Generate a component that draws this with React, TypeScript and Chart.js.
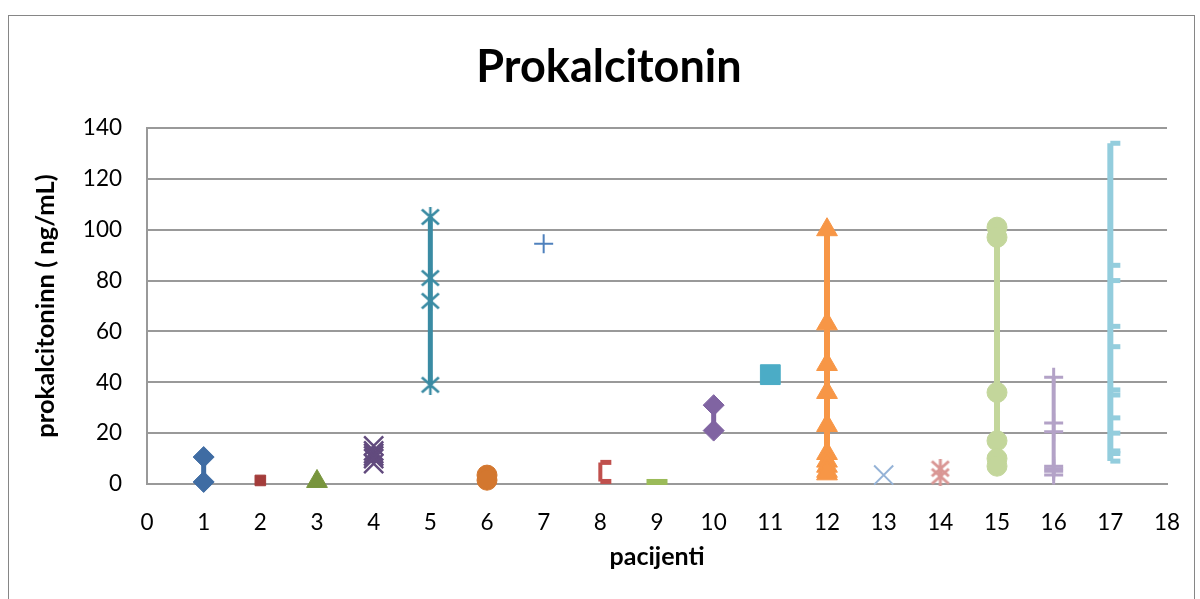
import React, { useEffect, useRef } from "react";
import { Chart, registerables } from "chart.js";

Chart.register(...registerables);

// ---- data ----
const patients = [1, 2, 3, 4, 5, 6, 7, 8, 9, 10, 11, 12, 13, 14, 15, 16, 17];

const p1 = [10.6, 0.8];
const p2 = [1.4];
const p3 = [1];
const p4 = [15, 13, 12, 11, 10, 8];
const p5 = [105, 81, 72, 39];
const p6 = [3.5, 1.5];
const p7 = [94.5];
const p8 = [8.5, 1];
const p9 = [0.8];
const p10 = [31, 21];
const p11 = [43];
const p12 = [100, 63, 47, 36, 23, 12, 9, 7, 5, 4];
const p13 = [3.5];
const p14 = [6, 3];
const p15 = [101, 97, 36, 17, 10, 7];
const p16 = [42, 24, 20.5, 7, 6, 5, 3.5];
const p17 = [134, 86, 80, 62, 54, 37, 35, 26, 20, 13, 12, 9];

const seriesValues = [p1, p2, p3, p4, p5, p6, p7, p8, p9, p10, p11, p12, p13, p14, p15, p16, p17];

const titleText = "Prokalcitonin";
const xTitle = "pacijenti";
const yTitle = "prokalcitoninn ( ng/mL)";
const xMin = 0;
const xMax = 18;
const yMin = 0;
const yMax = 140;
const yStep = 20;

// ---- styles ----
const seriesColors = [
  "#3F6CA3", "#A33C3A", "#78953D", "#624B7E", "#3A8BA3", "#D3772F",
  "#4F81BD", "#C0504D", "#9BBB59", "#8064A2", "#4BACC6", "#F79646",
  "#95B3D7", "#D99694", "#C3D69B", "#B3A2C7", "#93CDDD",
];
const markerKinds = [
  "rectRot", "rect", "triangle", "crossRot", "excelStar", "circle", "cross", "dash", "line",
  "rectRot", "rect", "triangle", "crossRot", "excelStar", "circle", "cross", "dash",
];
const markerRadius = [10.5, 7.5, 12, 13.5, 20, 10, 9.5, 11, 10.5, 10.5, 14, 12, 13.5, 20, 10, 9.5, 10];
const markerStroke = [1, 1, 1, 2.5, 2.5, 1, 2, 5, 6, 1, 1, 1, 2, 3, 1, 3, 5];
const lineWidths = [5, 4, 4, 2.5, 5, 5, 2, 4, 4, 5, 4, 6, 2, 4, 6, 4, 6];

const FONT = "Lato, 'Noto Sans', sans-serif";

function makeStar(color: string, size: number, lw: number) {
  const c = document.createElement("canvas");
  c.width = size;
  c.height = size;
  const ctx = c.getContext("2d")!;
  ctx.strokeStyle = color;
  ctx.lineWidth = lw;
  const m = 1.5;
  ctx.beginPath();
  ctx.moveTo(m, m + 1);
  ctx.lineTo(size - m, size - m - 1);
  ctx.moveTo(size - m, m + 1);
  ctx.lineTo(m, size - m - 1);
  ctx.moveTo(size / 2, 0);
  ctx.lineTo(size / 2, size);
  ctx.stroke();
  return c;
}

export default function App() {
  const ref = useRef<HTMLCanvasElement | null>(null);

  useEffect(() => {
    const canvas = ref.current;
    if (!canvas) return;

    const datasets = seriesValues.map((vals, i) => {
      const color = seriesColors[i];
      const kind = markerKinds[i];
      const style: any = kind === "excelStar" ? makeStar(color, markerRadius[i], markerStroke[i]) : kind;
      return {
        label: "Pacijent " + patients[i],
        data: vals.map((v) => ({ x: patients[i], y: v })),
        showLine: true,
        borderColor: color,
        backgroundColor: color,
        borderWidth: lineWidths[i],
        pointStyle: style,
        pointRadius: kind === "excelStar" ? 10 : markerRadius[i],
        pointBorderWidth: markerStroke[i],
        pointBorderColor: color,
        pointBackgroundColor: color,
        clip: false as any,
      };
    });

    const chart = new Chart(canvas, {
      type: "scatter",
      data: { datasets },
      options: {
        animation: false,
        responsive: false,
        maintainAspectRatio: false,
        layout: { padding: { left: 51, right: 33, top: 0, bottom: 0 } },
        plugins: {
          legend: { display: false },
          tooltip: { enabled: false },
          title: {
            display: true,
            text: titleText,
            color: "#000",
            font: { family: FONT, size: 45, weight: "bold" },
            padding: { top: 40, bottom: 128 - 40 - 45 * 1.2 },
          },
        },
        scales: {
          x: {
            type: "linear",
            min: xMin,
            max: xMax,
            ticks: {
              stepSize: 1,
              color: "#000",
              padding: 25,
              font: { family: FONT, size: 22.5 },
            },
            grid: { display: false, drawTicks: false },
            border: { display: true, color: "#999999", width: 2 },
            title: {
              display: true,
              text: xTitle,
              color: "#000",
              font: { family: FONT, size: 25, weight: "bold" },
              padding: { top: 0, bottom: 27 },
            },
            afterFit: (s: any) => {
              s.height = 115;
              s.paddingLeft = 0;
              s.paddingRight = 0;
            },
          },
          y: {
            type: "linear",
            min: yMin,
            max: yMax,
            ticks: {
              stepSize: yStep,
              color: "#000",
              padding: 25,
              font: { family: FONT, size: 22.5 },
            },
            grid: { display: true, drawTicks: false, color: "#999999", lineWidth: 2 },
            border: { display: true, color: "#999999", width: 2 },
            title: {
              display: true,
              text: yTitle,
              color: "#000",
              font: { family: FONT, size: 25.5, weight: "bold" },
              padding: { top: -21, bottom: 0 },
            },
            afterFit: (s: any) => {
              s.width = 96;
            },
          },
        },
      },
    });

    return () => chart.destroy();
  }, []);

  return (
    <div style={{ position: "absolute", left: 0, top: 0, width: 1200, height: 599, overflow: "hidden", background: "#fff" }}>
      <div
        style={{
          position: "absolute",
          left: 8,
          top: 15,
          width: 1187,
          height: 620,
          border: "1px solid #868686",
          boxSizing: "border-box",
        }}
      />
      <canvas ref={ref} width={1200} height={599} style={{ position: "absolute", left: 0, top: 0, width: 1200, height: 599 }} />
    </div>
  );
}
